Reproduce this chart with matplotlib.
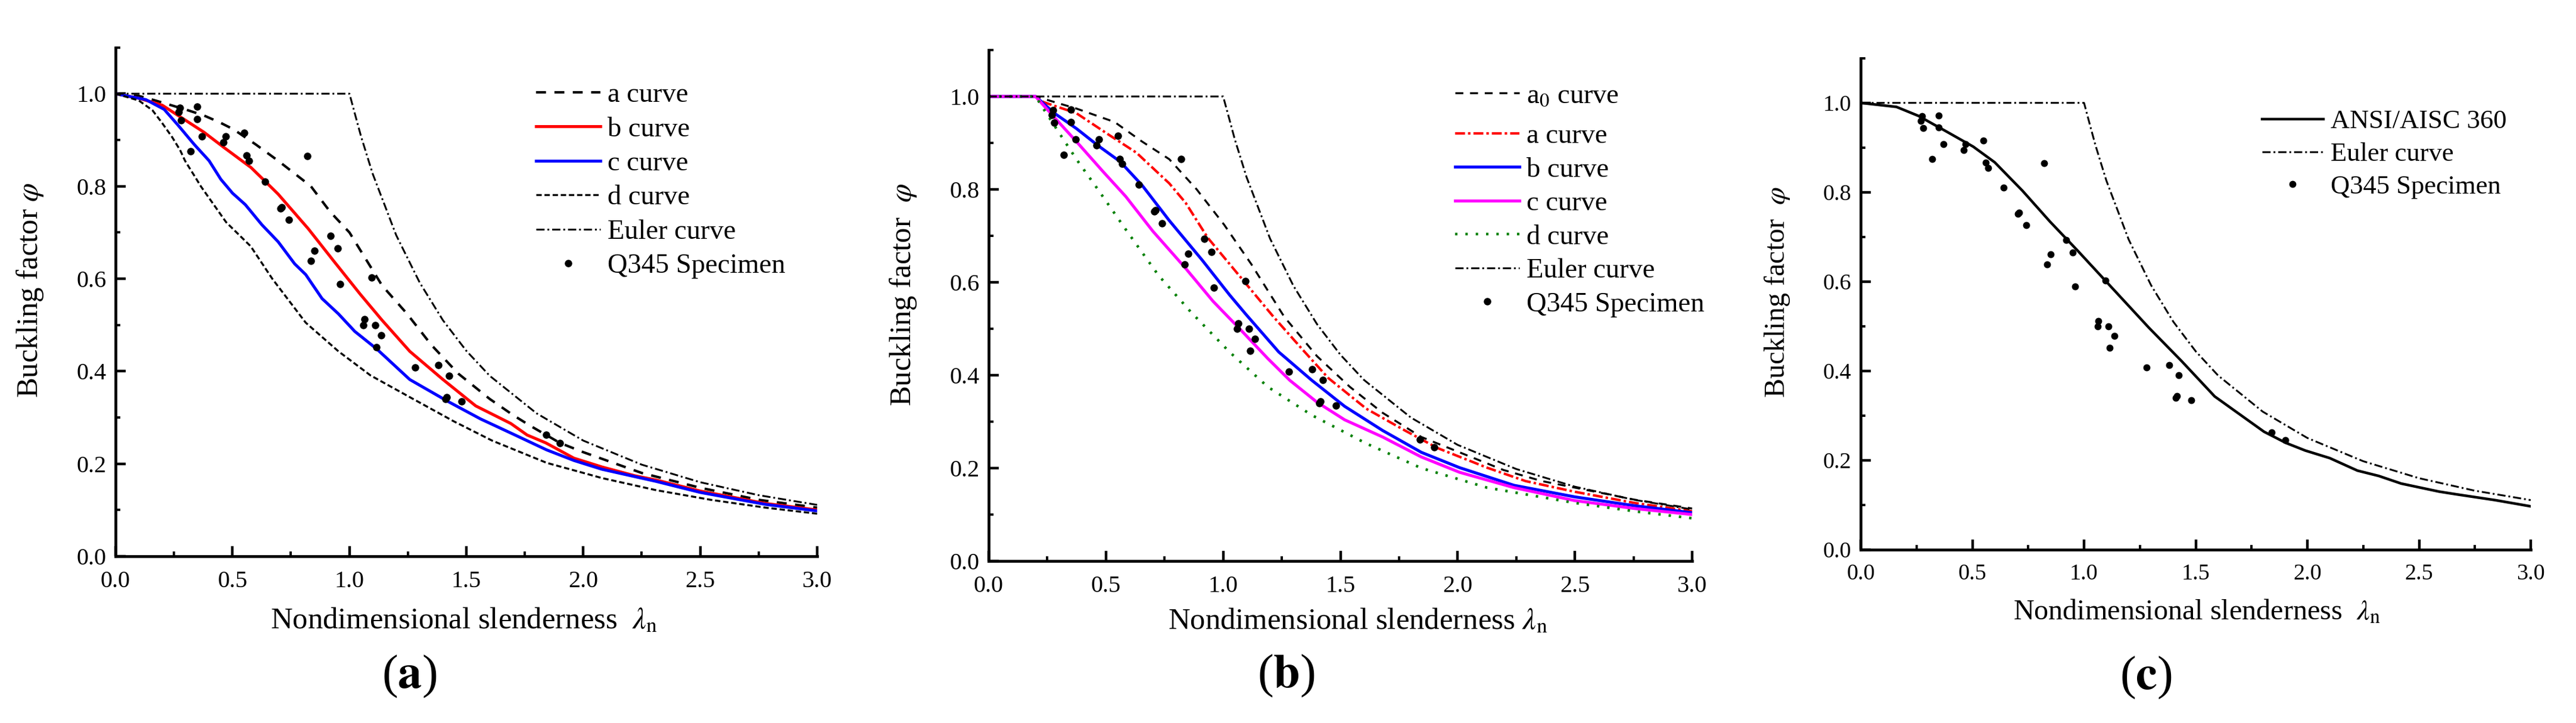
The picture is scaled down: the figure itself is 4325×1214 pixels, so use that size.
import matplotlib
matplotlib.use('Agg')
import matplotlib.pyplot as plt
from matplotlib.ticker import MultipleLocator, FormatStrFormatter

plt.rcParams['font.family'] = ['Liberation Serif', 'DejaVu Serif']
plt.rcParams['mathtext.fontset'] = 'stix'

W, H = 4325, 1214

spec_x = [0.27, 0.275, 0.28, 0.35, 0.35, 0.32, 0.37, 0.46, 0.47, 0.55, 0.56, 0.57, 0.64, 0.705, 0.71, 0.74, 0.82, 0.835,
          0.85, 0.92, 0.95, 0.96, 1.095, 1.06, 1.065, 1.11, 1.135, 1.115, 1.28, 1.38, 1.425, 1.41, 1.415, 1.48, 1.84, 1.90]
spec_y = [0.96, 0.97, 0.943, 0.972, 0.945, 0.875, 0.908, 0.895, 0.908, 0.916, 0.866, 0.855, 0.81, 0.752, 0.755, 0.727,
          0.865, 0.638, 0.661, 0.693, 0.665, 0.589, 0.602, 0.50, 0.512, 0.50, 0.478, 0.452, 0.408, 0.413, 0.39, 0.34,
          0.344, 0.335, 0.262, 0.245]

euler_x = [0, 1.0, 1.05, 1.1, 1.2, 1.3, 1.4, 1.5, 1.6, 1.8, 2.0, 2.25, 2.5, 2.75, 3.0]
euler_y = [1, 1, 0.907, 0.826, 0.694, 0.592, 0.51, 0.444, 0.39, 0.309, 0.25, 0.198, 0.16, 0.132, 0.111]

# panel a
a1_x = [0, 0.1, 0.158, 0.225, 0.31, 0.377, 0.445, 0.504, 0.6, 0.695, 0.835, 0.917, 1.0, 1.14, 1.245, 1.35, 1.465, 1.6,
        1.7, 1.78, 1.9, 2.0, 2.25, 2.5, 2.75, 3.0]
a1_y = [1, 0.995, 0.987, 0.977, 0.964, 0.953, 0.938, 0.923, 0.89, 0.855, 0.80, 0.745, 0.70, 0.585, 0.525, 0.457, 0.395,
        0.34, 0.305, 0.28, 0.245, 0.225, 0.18, 0.148, 0.122, 0.105]
b1_x = [0, 0.1, 0.2, 0.267, 0.377, 0.46, 0.58, 0.695, 0.824, 0.93, 1.047, 1.14, 1.258, 1.4, 1.54, 1.69, 1.76, 1.84,
        1.96, 2.08, 2.22, 2.31, 2.5, 2.78, 3.0]
b1_y = [1, 0.99, 0.975, 0.953, 0.917, 0.885, 0.84, 0.783, 0.708, 0.64, 0.566, 0.51, 0.443, 0.382, 0.325, 0.287, 0.262,
        0.245, 0.212, 0.193, 0.174, 0.165, 0.141, 0.114, 0.10]
c1_x = [0, 0.1, 0.13, 0.208, 0.267, 0.335, 0.4, 0.45, 0.5, 0.555, 0.625, 0.695, 0.766, 0.813, 0.883, 0.953, 1.023,
        1.117, 1.258, 1.42, 1.56, 1.70, 1.843, 1.96, 2.08, 2.31, 2.5, 2.78, 3.0]
c1_y = [1, 0.99, 0.987, 0.966, 0.932, 0.891, 0.855, 0.815, 0.785, 0.76, 0.717, 0.68, 0.632, 0.609, 0.557, 0.524,
        0.486, 0.448, 0.382, 0.335, 0.297, 0.264, 0.23, 0.207, 0.188, 0.162, 0.138, 0.112, 0.098]
d1_x = [0, 0.1, 0.158, 0.2, 0.242, 0.276, 0.297, 0.367, 0.473, 0.578, 0.67, 0.813, 0.953, 1.09, 1.258, 1.445, 1.61,
        1.843, 2.08, 2.31, 2.545, 2.78, 3.0]
d1_y = [1, 0.985, 0.964, 0.936, 0.906, 0.878, 0.855, 0.798, 0.722, 0.67, 0.60, 0.505, 0.443, 0.391, 0.344, 0.292, 0.25,
        0.202, 0.169, 0.143, 0.122, 0.105, 0.092]

# panel b
a0_x = [0, 0.2, 0.374, 0.537, 0.654, 0.77, 0.887, 1.004, 1.12, 1.26, 1.40, 1.54, 1.68, 1.845, 2.008, 2.195, 2.36, 2.5,
        2.755, 3.0]
a0_y = [1, 1, 0.974, 0.945, 0.903, 0.865, 0.80, 0.724, 0.639, 0.526, 0.441, 0.375, 0.319, 0.267, 0.234, 0.196, 0.172,
        0.158, 0.132, 0.113]
a2_x = [0, 0.2, 0.233, 0.374, 0.514, 0.63, 0.77, 0.84, 0.934, 1.074, 1.214, 1.33, 1.448, 1.61, 1.775, 1.915, 2.125,
        2.29, 2.5, 2.755, 3.0]
a2_y = [1, 1, 0.988, 0.964, 0.917, 0.879, 0.813, 0.771, 0.696, 0.611, 0.526, 0.46, 0.394, 0.328, 0.281, 0.243, 0.201,
        0.172, 0.149, 0.125, 0.107]
b2_x = [0, 0.2, 0.28, 0.374, 0.467, 0.56, 0.654, 0.77, 0.91, 1.027, 1.097, 1.237, 1.378, 1.518, 1.68, 1.845, 2.008,
        2.24, 2.5, 2.755, 3.0]
b2_y = [1, 1, 0.964, 0.931, 0.894, 0.86, 0.809, 0.733, 0.648, 0.573, 0.531, 0.45, 0.389, 0.333, 0.281, 0.234, 0.201,
        0.163, 0.138, 0.119, 0.104]
c2_x = [0, 0.2, 0.28, 0.374, 0.49, 0.584, 0.70, 0.84, 0.957, 1.074, 1.19, 1.284, 1.40, 1.518, 1.68, 1.845, 2.008, 2.24,
        2.5, 2.755, 3.0]
c2_y = [1, 1, 0.955, 0.903, 0.837, 0.785, 0.71, 0.63, 0.559, 0.498, 0.436, 0.389, 0.342, 0.304, 0.267, 0.224, 0.191,
        0.158, 0.13, 0.113, 0.10]
d2_x = [0, 0.2, 0.233, 0.30, 0.374, 0.467, 0.584, 0.724, 0.864, 1.027, 1.19, 1.378, 1.61, 1.845, 2.125, 2.5, 2.755, 3.0]
d2_y = [1, 1, 0.974, 0.922, 0.865, 0.799, 0.714, 0.615, 0.535, 0.45, 0.375, 0.314, 0.253, 0.20, 0.158, 0.125, 0.107,
        0.092]

# panel c
aisc_x = [0, 0.16, 0.258, 0.38, 0.504, 0.60, 0.725, 0.848, 0.97, 1.118, 1.29, 1.437, 1.585, 1.708, 1.806, 1.904, 1.99,
          2.10, 2.224, 2.32, 2.42, 2.59, 2.666, 2.84, 3.0]
aisc_y = [1, 0.991, 0.971, 0.937, 0.902, 0.867, 0.803, 0.734, 0.67, 0.59, 0.497, 0.422, 0.343, 0.299, 0.264, 0.239,
          0.222, 0.205, 0.177, 0.165, 0.148, 0.13, 0.124, 0.111, 0.097]

DASH = (0, (4, 3.4))
SHORT = (0, (2.7, 1.4))
GREEN_DOT = (0, (0.9, 3))
RED_DASHDOT = (0, (4, 1.2, 1, 1.2))
EULER = (0, (4.5, 1.6, 1, 1.6))

fig = plt.figure(figsize=(W / 100, H / 100), dpi=100)


def make_axes(left, right, bottom, top, labelsize=29):
    ax = fig.add_axes([left / W, 1 - bottom / H, (right - left) / W, (bottom - top) / H])
    ax.set_xlim(0, 3.0)
    ax.set_ylim(0, 1.1)
    ax.spines['top'].set_visible(False)
    ax.spines['right'].set_visible(False)
    ax.spines['left'].set_linewidth(3.4)
    ax.spines['bottom'].set_linewidth(3.4)
    ax.xaxis.set_major_locator(MultipleLocator(0.5))
    ax.xaxis.set_minor_locator(MultipleLocator(0.25))
    ax.yaxis.set_major_locator(MultipleLocator(0.2))
    ax.yaxis.set_minor_locator(MultipleLocator(0.1))
    ax.xaxis.set_major_formatter(FormatStrFormatter('%.1f'))
    ax.yaxis.set_major_formatter(FormatStrFormatter('%.1f'))
    ax.tick_params(which='major', direction='in', length=12, width=3.2, labelsize=labelsize)
    ax.tick_params(which='minor', direction='in', length=6, width=2.8)
    ax.tick_params(axis='x', which='major', pad=17)
    ax.tick_params(axis='y', which='major', pad=11)
    return ax


def add_legend(ax, handles, at, size, rows):
    return ax.legend(handles=handles, loc='upper left', bbox_to_anchor=at, frameon=False, fontsize=size,
                     handlelength=2.32, handletextpad=0.26, labelspacing=rows, borderpad=0, borderaxespad=0)


def finish(ax, xlabel, ylabel, xlab_pos, ylab_pos, panel, panel_pos, size=36.5):
    ax.set_xlabel(xlabel, fontsize=size)
    ax.xaxis.set_label_coords(*xlab_pos)
    ax.set_ylabel(ylabel, fontsize=size)
    ax.yaxis.set_label_coords(*ylab_pos)
    ax.text(panel_pos[0], panel_pos[1], panel, transform=ax.transAxes, ha='center', va='center', fontsize=58)


axa = make_axes(194, 1372, 934, 79.6)
axa.plot(a1_x, a1_y, color='black', lw=3.0, ls=DASH, label='a curve')
axa.plot(b1_x, b1_y, color='#ff0000', lw=3.6, label='b curve')
axa.plot(c1_x, c1_y, color='#0000ff', lw=3.6, label='c curve')
axa.plot(d1_x, d1_y, color='black', lw=2.4, ls=SHORT, label='d curve')
axa.plot(euler_x, euler_y, color='black', lw=2.2, ls=EULER, label='Euler curve')
axa.plot(spec_x, spec_y, ls='none', marker='o', ms=9, mew=0, color='black', label='Q345 Specimen')
add_legend(axa, axa.get_lines(), (0.599, 0.931), 33.5, 0.32)
finish(axa, r'Nondimensional slenderness  $\lambda_{\mathrm{n}}$', r'Buckling factor $\varphi$',
       (0.497, -0.10), (-0.100, 0.523), r'($\mathbf{a}$)', (0.419, -0.236))

axb = make_axes(1660, 2841, 942, 84)
axb.plot(a0_x, a0_y, color='black', lw=2.4, ls=DASH, label=r'a$_{0}$ curve')
axb.plot(a2_x, a2_y, color='#ff0000', lw=3.0, ls=RED_DASHDOT, label='a curve')
axb.plot(b2_x, b2_y, color='#0000ff', lw=3.6, label='b curve')
axb.plot(c2_x, c2_y, color='#ff00ff', lw=3.6, label='c curve')
axb.plot(d2_x, d2_y, color='#008000', lw=3.2, ls=GREEN_DOT, label='d curve')
axb.plot(euler_x, euler_y, color='black', lw=2.2, ls=EULER, label='Euler curve')
axb.plot(spec_x, spec_y, ls='none', marker='o', ms=9, mew=0, color='black', label='Q345 Specimen')
# the a0 row sits further from the others, so it gets its own legend
b_lines = axb.get_lines()
axb.add_artist(add_legend(axb, b_lines[:1], (0.663, 0.935), 33.5, 0.3))
add_legend(axb, b_lines[1:], (0.663, 0.856), 33.5, 0.3)
finish(axb, r'Nondimensional slenderness $\lambda_{\mathrm{n}}$', r'Buckling factor  $\varphi$',
       (0.525, -0.091), (-0.100, 0.521), r'($\mathbf{b}$)', (0.423, -0.225))

axc = make_axes(3124, 4249, 923, 97.7, labelsize=27.5)
axc.plot(aisc_x, aisc_y, color='black', lw=3.2, label='ANSI/AISC 360')
axc.plot(euler_x, euler_y, color='black', lw=2.2, ls=EULER, label='Euler curve')
axc.plot(spec_x, spec_y, ls='none', marker='o', ms=8.5, mew=0, color='black', label='Q345 Specimen')
add_legend(axc, axc.get_lines(), (0.599, 0.895), 32, 0.33)
finish(axc, r'Nondimensional slenderness  $\lambda_{\mathrm{n}}$', r'Buckling factor  $\varphi$',
       (0.502, -0.10), (-0.103, 0.524), r'($\mathbf{c}$)', (0.426, -0.26), size=34.7)

fig.savefig('out.png', dpi=100)
